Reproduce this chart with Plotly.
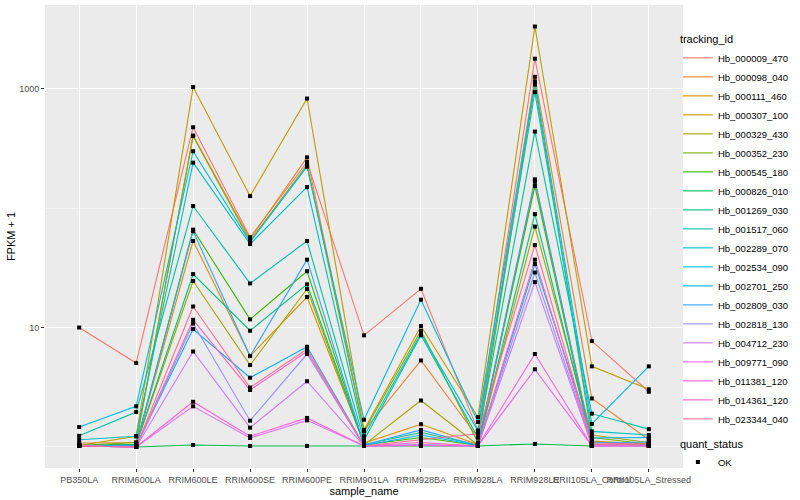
import numpy as np
import plotly.graph_objects as go

samples = ["PB350LA", "RRIM600LA", "RRIM600LE", "RRIM600SE", "RRIM600PE", "RRIM901LA",
           "RRIM928BA", "RRIM928LA", "RRIM928LE", "RRII105LA_Control", "RRII105LA_Stressed"]

tracking_ids = ["Hb_000009_470", "Hb_000098_040", "Hb_000111_460", "Hb_000307_100",
                "Hb_000329_430", "Hb_000352_230", "Hb_000545_180", "Hb_000826_010",
                "Hb_001269_030", "Hb_001517_060", "Hb_002289_070", "Hb_002534_090",
                "Hb_002701_250", "Hb_002809_030", "Hb_002818_130", "Hb_004712_230",
                "Hb_009771_090", "Hb_011381_120", "Hb_014361_120", "Hb_023344_040"]

colors = ["#F8766D", "#EA8331", "#D89000", "#C09B00", "#A3A500", "#7CAE00", "#39B600",
          "#00BB4E", "#00BF7D", "#00C1A3", "#00BFC4", "#00BAE0", "#00B0F6", "#35A2FF",
          "#9590FF", "#C77CFF", "#E76BF3", "#FA62DB", "#FF62BC", "#FF6C91"]

# FPKM + 1 values, one list per tracking_id, in the order of `samples`
hb_000009_470 = [10.0, 5.04, 475, 57, 243, 8.6, 21.1, 1.37, 1780, 7.7, 2.9]
hb_000098_040 = [1.08, 1.09, 405, 55, 266, 1.36, 5.3, 1.2, 1255, 2.55, 1.15]
hb_000111_460 = [1.03, 1.05, 53, 5.77, 18, 1.08, 1.55, 1.05, 166, 1.12, 1.06]
hb_000307_100 = [1.03, 1.23, 1030, 126, 826, 1.39, 10.3, 1.78, 3310, 4.73, 3.04]
hb_000329_430 = [1.03, 1.05, 24.5, 4.85, 21, 1.04, 2.45, 1.04, 70, 1.26, 1.09]
hb_000352_230 = [1.03, 1.09, 400, 53, 230, 1.35, 9.4, 1.09, 1080, 1.2, 1.06]
hb_000545_180 = [1.03, 1.05, 66, 11.7, 29.6, 1.04, 1.2, 1.03, 153, 1.05, 1.04]
hb_000826_010 = [1.02, 1.0, 1.04, 1.02, 1.02, 1.02, 1.02, 1.02, 1.06, 1.02, 1.02]
hb_001269_030 = [1.03, 1.05, 28, 9.4, 23, 1.05, 1.32, 1.04, 89, 1.1, 1.05]
hb_001517_060 = [1.24, 1.96, 104, 23.4, 53, 1.14, 8.6, 1.2, 437, 1.9, 1.41]
hb_002289_070 = [1.15, 1.23, 240, 50, 150, 1.23, 8.9, 1.37, 935, 1.35, 1.26]
hb_002534_090 = [1.47, 2.19, 299, 52, 222, 1.69, 17.1, 1.62, 1150, 1.56, 4.73]
hb_002701_250 = [1.03, 1.02, 9.7, 3.8, 6.9, 1.03, 1.26, 1.03, 34, 1.19, 1.2]
hb_002809_030 = [1.03, 1.03, 64, 5.77, 37, 1.04, 1.39, 1.03, 174, 1.08, 1.1]
hb_002818_130 = [1.02, 1.0, 10.8, 1.66, 6.0, 1.02, 1.05, 1.02, 28.9, 1.03, 1.03]
hb_004712_230 = [1.02, 1.0, 6.3, 1.45, 3.55, 1.02, 1.04, 1.02, 24, 1.03, 1.03]
hb_009771_090 = [1.02, 1.0, 2.19, 1.19, 1.67, 1.02, 1.03, 1.02, 4.47, 1.02, 1.02]
hb_011381_120 = [1.02, 1.0, 2.39, 1.23, 1.75, 1.02, 1.03, 1.02, 6.0, 1.02, 1.02]
hb_014361_120 = [1.02, 1.0, 11.6, 3.0, 6.3, 1.02, 1.09, 1.02, 37, 1.05, 1.04]
hb_023344_040 = [1.02, 1.0, 15, 3.15, 6.6, 1.02, 1.15, 1.29, 49, 1.08, 1.06]

series = [hb_000009_470, hb_000098_040, hb_000111_460, hb_000307_100, hb_000329_430,
          hb_000352_230, hb_000545_180, hb_000826_010, hb_001269_030, hb_001517_060,
          hb_002289_070, hb_002534_090, hb_002701_250, hb_002809_030, hb_002818_130,
          hb_004712_230, hb_009771_090, hb_011381_120, hb_014361_120, hb_023344_040]

font_family = "Liberation Sans, Arial, sans-serif"
fig = go.Figure()

for tid, col, vals in zip(tracking_ids, colors, series):
    fig.add_trace(go.Scatter(
        x=samples, y=vals, mode="lines", name=tid,
        line=dict(color=col, width=1.1), legend="legend"))

all_x, all_y = [], []
for vals in series:
    all_x.extend(samples)
    all_y.extend(vals)
fig.add_trace(go.Scatter(
    x=all_x, y=all_y, mode="markers", name="OK",
    marker=dict(color="black", size=4, symbol="square"), legend="legend2"))

fig.update_layout(
    width=800, height=500,
    margin=dict(l=45, r=117, t=5, b=32, autoexpand=False),
    paper_bgcolor="white", plot_bgcolor="#EBEBEB",
    font=dict(family=font_family, color="black"),
    legend=dict(
        title=dict(text="tracking_id", font=dict(size=11, color="black")),
        font=dict(size=9.5, color="black"),
        x=0.992, xanchor="left", y=0.948, yanchor="top",
        itemwidth=30,
        bgcolor="rgba(0,0,0,0)", tracegroupgap=0),
    legend2=dict(
        title=dict(text="quant_status", font=dict(size=11, color="black")),
        font=dict(size=9.5, color="black"),
        x=0.992, xanchor="left", y=0.075, yanchor="top",
        itemwidth=30,
        bgcolor="rgba(0,0,0,0)"),
    xaxis=dict(
        type="category", categoryorder="array", categoryarray=samples,
        range=[-0.6, len(samples) - 0.4],
        showgrid=True, gridcolor="white", gridwidth=1.1,
        ticks="outside", ticklen=3, tickcolor="#333333", tickwidth=1,
        tickangle=0, automargin=False,
        tickfont=dict(size=9, color="#4D4D4D"),
        title=dict(text="sample_name", font=dict(size=11, color="black"), standoff=0),
        zeroline=False, showline=False),
    yaxis=dict(
        type="log", range=[-0.176, 3.70],
        tickvals=[10, 1000], ticktext=["10", "1000"],
        showgrid=True, gridcolor="white", gridwidth=1.1,
        minor=dict(tickvals=[1, 100], showgrid=True, gridcolor="#F5F5F5", gridwidth=0.6, ticks=""),
        ticks="outside", ticklen=3, tickcolor="#333333", tickwidth=1,
        automargin=False,
        tickfont=dict(size=9, color="#4D4D4D"),
        title=dict(text="FPKM + 1", font=dict(size=11, color="black"), standoff=1),
        zeroline=False, showline=False),
)

fig.write_html("out.html", config={"displayModeBar": False},
               post_script="document.body.style.margin='0';")
